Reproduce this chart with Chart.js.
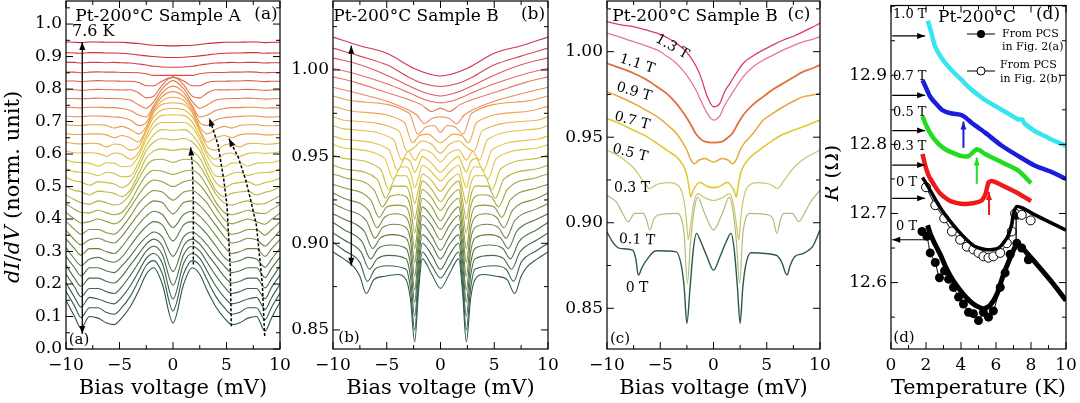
<!DOCTYPE html>
<html>
<head>
<meta charset="utf-8">
<script src="https://cdn.jsdelivr.net/npm/chart.js@4/dist/chart.umd.min.js"></script>
<style>
  body { margin: 0; background: #fff; width: 1080px; height: 403px; overflow: hidden; position: relative; }
  canvas { position: absolute; top: 0; }
</style>
</head>
<body>
<canvas id="ca" width="300" height="403" style="left:0px"></canvas>
<canvas id="cb" width="285" height="403" style="left:285px"></canvas>
<canvas id="cc" width="285" height="403" style="left:555px"></canvas>
<canvas id="cd" width="255" height="403" style="left:825px"></canvas>
<script>
// ---- tick labels ----
const biasTicks = [-10, -5, 0, 5, 10];
const yTicksA = [0, 0.1, 0.2, 0.3, 0.4, 0.5, 0.6, 0.7, 0.8, 0.9, 1.0];
const yTicksBC = [0.85, 0.90, 0.95, 1.00];
const tTicksD = [0, 2, 4, 6, 8, 10];
const rTicksD = [12.6, 12.7, 12.8, 12.9];

// ---- (a) Sample A, dI/dV vs bias, bottom (low T) to top (7.6 K) ----
const biasA = [-10, -9.2, -8.6, -7.8, -7, -6.2, -5.5, -4.8, -4, -3.2, -2.5, -1.8, -1, 0, 1, 1.8, 2.5, 3.2, 4, 4.8, 5.5, 6.2, 7, 7.8, 8.6, 9.2, 10];
const curvesA = [
  [.150,.100,.065,.100,.095,.080,.075,.095,.130,.180,.230,.250,.200,.080,.200,.250,.230,.180,.130,.095,.075,.080,.095,.100,.055,.095,.145],
  [.177,.132,.097,.127,.127,.112,.107,.127,.162,.212,.257,.272,.232,.117,.232,.272,.257,.212,.162,.127,.107,.112,.127,.127,.090,.128,.172],
  [.204,.159,.129,.159,.154,.144,.139,.159,.194,.239,.279,.294,.264,.154,.264,.294,.279,.239,.194,.159,.139,.144,.154,.159,.122,.157,.200],
  [.231,.191,.161,.186,.186,.176,.171,.191,.226,.266,.301,.316,.291,.196,.291,.316,.301,.266,.226,.191,.171,.176,.186,.186,.155,.189,.228],
  [.258,.218,.193,.218,.218,.208,.203,.223,.258,.293,.323,.338,.318,.238,.318,.338,.323,.293,.258,.223,.203,.208,.218,.218,.188,.216,.255],
  [.285,.250,.225,.250,.250,.240,.235,.255,.285,.320,.345,.360,.345,.285,.345,.360,.345,.320,.285,.255,.235,.240,.250,.250,.220,.248,.283],
  [.312,.277,.257,.277,.282,.272,.267,.282,.317,.352,.377,.392,.382,.332,.382,.392,.377,.352,.317,.282,.267,.272,.282,.277,.252,.276,.310],
  [.339,.309,.289,.309,.309,.299,.294,.314,.349,.384,.409,.424,.414,.374,.414,.424,.409,.384,.349,.314,.294,.299,.309,.309,.285,.308,.337],
  [.366,.336,.321,.336,.341,.331,.326,.346,.381,.416,.441,.456,.451,.416,.451,.456,.441,.416,.381,.346,.326,.331,.341,.336,.317,.335,.364],
  [.393,.368,.353,.368,.368,.358,.353,.373,.408,.448,.473,.488,.483,.458,.483,.488,.473,.448,.408,.373,.353,.358,.368,.368,.350,.367,.391],
  [.420,.400,.388,.392,.400,.392,.385,.398,.435,.475,.505,.520,.515,.500,.515,.520,.505,.475,.435,.398,.385,.392,.400,.392,.384,.399,.418],
  [.447,.430,.420,.419,.427,.419,.413,.420,.452,.500,.535,.550,.547,.537,.547,.550,.535,.500,.452,.420,.413,.419,.427,.419,.417,.429,.445],
  [.474,.459,.450,.446,.456,.450,.443,.449,.477,.524,.563,.582,.584,.574,.584,.582,.563,.524,.477,.449,.443,.450,.456,.446,.448,.458,.472],
  [.501,.488,.484,.474,.486,.483,.479,.469,.489,.540,.588,.609,.616,.611,.616,.609,.588,.540,.489,.469,.479,.483,.486,.474,.482,.487,.499],
  [.528,.517,.514,.504,.515,.512,.508,.497,.513,.560,.611,.637,.648,.643,.648,.637,.611,.560,.513,.497,.508,.512,.515,.504,.512,.516,.526],
  [.555,.546,.544,.541,.534,.544,.540,.530,.532,.575,.627,.659,.675,.673,.675,.659,.627,.575,.532,.530,.540,.544,.534,.541,.543,.545,.553],
  [.582,.575,.574,.572,.563,.573,.572,.561,.563,.594,.645,.682,.697,.697,.697,.682,.645,.594,.563,.561,.572,.573,.563,.572,.573,.574,.580],
  [.609,.604,.603,.604,.602,.593,.603,.600,.584,.605,.656,.698,.719,.721,.719,.698,.656,.605,.584,.600,.603,.593,.602,.604,.602,.603,.607],
  [.636,.632,.631,.633,.632,.622,.631,.628,.612,.622,.670,.715,.736,.741,.736,.715,.670,.622,.612,.628,.631,.622,.632,.633,.630,.631,.634],
  [.663,.660,.660,.662,.662,.659,.650,.657,.650,.637,.676,.727,.753,.758,.753,.727,.676,.637,.650,.657,.650,.659,.662,.662,.659,.659,.661],
  [.690,.688,.688,.690,.690,.688,.680,.685,.676,.662,.684,.734,.765,.775,.765,.734,.684,.662,.676,.685,.680,.688,.690,.690,.687,.687,.688],
  [.717,.715,.715,.717,.717,.716,.714,.712,.705,.688,.697,.742,.777,.792,.777,.742,.697,.688,.705,.712,.714,.716,.717,.717,.714,.714,.715],
  [.744,.743,.742,.744,.744,.743,.743,.740,.734,.720,.714,.749,.789,.809,.789,.749,.714,.720,.734,.740,.743,.743,.744,.744,.741,.742,.742],
  [.771,.771,.770,.771,.772,.771,.771,.770,.766,.751,.741,.761,.801,.826,.801,.761,.741,.751,.766,.770,.771,.771,.772,.771,.769,.770,.770],
  [.798,.798,.796,.798,.799,.798,.798,.797,.798,.788,.773,.778,.813,.838,.813,.778,.773,.788,.798,.797,.798,.798,.799,.798,.796,.797,.797],
  [.825,.825,.823,.825,.826,.825,.825,.824,.824,.820,.810,.810,.825,.836,.825,.810,.810,.820,.824,.824,.825,.825,.826,.825,.823,.824,.824],
  [.852,.852,.850,.852,.853,.852,.852,.851,.851,.850,.847,.842,.842,.842,.842,.842,.847,.850,.851,.851,.852,.852,.853,.852,.850,.851,.851],
  [.882,.882,.880,.882,.882,.881,.882,.881,.880,.877,.874,.870,.868,.867,.868,.870,.874,.877,.880,.881,.882,.881,.882,.882,.880,.881,.881],
  [.912,.911,.910,.912,.912,.911,.911,.910,.908,.905,.902,.900,.898,.897,.898,.900,.902,.905,.908,.910,.911,.911,.912,.912,.910,.911,.911],
  [.945,.944,.943,.945,.945,.944,.944,.944,.942,.940,.937,.935,.934,.933,.934,.935,.937,.940,.942,.944,.944,.944,.945,.945,.943,.944,.944]
];

// ---- (b) Sample B, temperature series, [bias, dI/dV] ----
const curvesB = [
  [[-10,.895],[-9,.891],[-8,.886],[-7.5,.881],[-6.9,.871],[-6.2,.879],[-5.2,.881],[-4,.882],[-3.2,.879],[-2.8,.868],[-2.4,.843],[-2.05,.872],[-1.7,.891],[-0.8,.882],[0,.874],[0.8,.882],[1.7,.891],[2.05,.872],[2.4,.843],[2.8,.868],[3.2,.879],[4,.882],[5.2,.881],[6.2,.879],[6.9,.871],[7.5,.881],[8,.886],[9,.891],[10,.895]],
  [[-10,.9006],[-9,.896],[-7.5,.889],[-6.8,.878],[-6.1,.885],[-5,.887],[-3.2,.885],[-2.8,.874],[-2.4,.850],[-2.05,.877],[-1.7,.895],[-0.8,.887],[0,.880],[0.8,.887],[1.7,.895],[2.05,.877],[2.4,.850],[2.8,.874],[3.2,.885],[5,.887],[6.1,.885],[6.8,.878],[7.5,.889],[9,.896],[10,.900]],
  [[-10,.906],[-9,.902],[-7.4,.895],[-6.6,.885],[-5.9,.891],[-4.8,.893],[-3.2,.891],[-2.8,.881],[-2.4,.858],[-2.05,.883],[-1.7,.900],[-0.8,.893],[0,.885],[0.8,.893],[1.7,.900],[2.05,.883],[2.4,.858],[2.8,.881],[3.2,.891],[4.8,.893],[5.9,.891],[6.6,.885],[7.4,.895],[9,.902],[10,.906]],
  [[-10,.912],[-9,.908],[-7.3,.901],[-6.5,.891],[-5.8,.897],[-4.6,.899],[-3.2,.897],[-2.8,.888],[-2.4,.866],[-2.05,.889],[-1.7,.905],[-0.8,.899],[0,.891],[0.8,.899],[1.7,.905],[2.05,.889],[2.4,.866],[2.8,.888],[3.2,.897],[4.6,.899],[5.8,.897],[6.5,.891],[7.3,.901],[9,.908],[10,.912]],
  [[-10,.917],[-9,.914],[-7.1,.907],[-6.3,.897],[-5.6,.903],[-4.5,.905],[-3.2,.903],[-2.8,.895],[-2.4,.873],[-2.05,.895],[-1.7,.911],[-0.8,.904],[0,.896],[0.8,.904],[1.7,.911],[2.05,.895],[2.4,.873],[2.8,.895],[3.2,.903],[4.5,.905],[5.6,.903],[6.3,.897],[7.1,.907],[9,.914],[10,.917]],
  [[-10,.923],[-9,.920],[-6.9,.913],[-6.1,.903],[-5.4,.909],[-4.3,.911],[-3.2,.909],[-2.8,.902],[-2.4,.881],[-2.05,.901],[-1.7,.916],[-0.8,.910],[0,.902],[0.8,.910],[1.7,.916],[2.05,.901],[2.4,.881],[2.8,.902],[3.2,.909],[4.3,.911],[5.4,.909],[6.1,.903],[6.9,.913],[9,.920],[10,.923]],
  [[-10,.929],[-9,.926],[-6.7,.919],[-5.9,.909],[-5.2,.915],[-4.2,.917],[-3.2,.915],[-2.8,.908],[-2.4,.889],[-2.05,.907],[-1.7,.921],[-0.8,.915],[0,.908],[0.8,.915],[1.7,.921],[2.05,.907],[2.4,.889],[2.8,.908],[3.2,.915],[4.2,.917],[5.2,.915],[5.9,.909],[6.7,.919],[9,.926],[10,.929]],
  [[-10,.934],[-9,.932],[-6.5,.925],[-5.7,.915],[-5.0,.921],[-4.0,.922],[-3.2,.921],[-2.8,.914],[-2.4,.897],[-2.05,.913],[-1.7,.926],[-0.8,.921],[0,.913],[0.8,.921],[1.7,.926],[2.05,.913],[2.4,.897],[2.8,.914],[3.2,.921],[4.0,.922],[5.0,.921],[5.7,.915],[6.5,.925],[9,.932],[10,.934]],
  [[-10,.940],[-9,.938],[-6.2,.931],[-5.4,.921],[-4.7,.927],[-3.9,.928],[-3.2,.927],[-2.8,.921],[-2.4,.906],[-2.05,.919],[-1.7,.931],[-0.8,.926],[0,.919],[0.8,.926],[1.7,.931],[2.05,.919],[2.4,.906],[2.8,.921],[3.2,.927],[3.9,.928],[4.7,.927],[5.4,.921],[6.2,.931],[9,.938],[10,.940]],
  [[-10,.945],[-9,.943],[-5.9,.937],[-5.1,.926],[-4.4,.933],[-3.2,.933],[-2.8,.927],[-2.4,.914],[-2.05,.925],[-1.7,.936],[-0.8,.931],[0,.924],[0.8,.931],[1.7,.936],[2.05,.925],[2.4,.914],[2.8,.927],[3.2,.933],[4.4,.933],[5.1,.926],[5.9,.937],[9,.943],[10,.945]],
  [[-10,.951],[-9,.949],[-5.6,.943],[-4.8,.931],[-4.1,.939],[-3.2,.939],[-2.8,.934],[-2.4,.923],[-2.05,.931],[-1.7,.940],[-0.8,.936],[0,.930],[0.8,.936],[1.7,.940],[2.05,.931],[2.4,.923],[2.8,.934],[3.2,.939],[4.1,.939],[4.8,.931],[5.6,.943],[9,.949],[10,.951]],
  [[-10,.957],[-9,.955],[-5.2,.949],[-4.4,.937],[-3.7,.944],[-3.1,.944],[-2.75,.940],[-2.4,.932],[-2.05,.938],[-1.7,.945],[-0.8,.941],[0,.936],[0.8,.941],[1.7,.945],[2.05,.938],[2.4,.932],[2.75,.940],[3.1,.944],[3.7,.944],[4.4,.937],[5.2,.949],[9,.955],[10,.957]],
  [[-10,.962],[-9,.960],[-4.8,.954],[-4.0,.942],[-3.3,.949],[-2.8,.947],[-2.4,.941],[-2.05,.945],[-1.7,.950],[-0.8,.946],[0,.941],[0.8,.946],[1.7,.950],[2.05,.945],[2.4,.941],[2.8,.947],[3.3,.949],[4.0,.942],[4.8,.954],[9,.960],[10,.962]],
  [[-10,.968],[-9,.966],[-4.4,.960],[-3.6,.948],[-3.0,.953],[-2.4,.948],[-1.7,.954],[-0.8,.952],[0,.947],[0.8,.952],[1.7,.954],[2.4,.948],[3.0,.953],[3.6,.948],[4.4,.960],[9,.966],[10,.968]],
  [[-10,.973],[-9,.971],[-3.9,.965],[-3.1,.953],[-2.5,.955],[-1.7,.959],[-0.8,.957],[0,.952],[0.8,.957],[1.7,.959],[2.5,.955],[3.1,.953],[3.9,.965],[9,.971],[10,.973]],
  [[-10,.979],[-8,.976],[-3.4,.970],[-2.6,.958],[-2.0,.962],[-1.2,.963],[0,.958],[1.2,.963],[2.0,.962],[2.6,.958],[3.4,.970],[8,.976],[10,.979]],
  [[-10,.985],[-8,.982],[-2.9,.975],[-2.1,.963],[-1.4,.967],[-0.6,.968],[0,.964],[0.6,.968],[1.4,.967],[2.1,.963],[2.9,.975],[8,.982],[10,.985]],
  [[-10,.990],[-8,.987],[-5,.982],[-3,.977],[-2.2,.974],[-1.5,.969],[-0.8,.972],[0,.973],[0.8,.972],[1.5,.969],[2.2,.974],[3,.977],[5,.982],[8,.987],[10,.990]],
  [[-10,.996],[-8,.993],[-5,.987],[-3,.983],[-1.8,.980],[-0.8,.976],[0,.978],[0.8,.976],[1.8,.980],[3,.983],[5,.987],[8,.993],[10,.996]],
  [[-10,1.001],[-8,.998],[-5,.992],[-3,.987],[-1.5,.983],[-0.6,.9815],[0,.981],[0.6,.9815],[1.5,.983],[3,.987],[5,.992],[8,.998],[10,1.001]],
  [[-10,1.007],[-7.5,1.003],[-5,.997],[-3,.991],[-1.5,.987],[0,.985],[1.5,.987],[3,.991],[5,.997],[7.5,1.003],[10,1.007]],
  [[-10,1.0126],[-7.5,1.008],[-5,1.003],[-3,.996],[-1.5,.992],[0,.9905],[1.5,.992],[3,.996],[5,1.003],[7.5,1.008],[10,1.0126]],
  [[-10,1.019],[-7.5,1.014],[-5,1.0096],[-2.5,1.001],[-1,.9975],[0,.9965],[1,.9975],[2.5,1.001],[5,1.0096],[7.5,1.014],[10,1.019]]
];

// ---- (c) Sample B, field series ----
const fieldsC = ['1.3 T', '1.1 T', '0.9 T', '0.7 T', '0.5 T', '0.3 T', '0.1 T', '0 T'];
const c13 = [[-10,1.0175],[-8.8,1.0158],[-7.5,1.0146],[-6.4,1.0128],[-5.3,1.0108],[-4.3,1.008],[-3.5,1.0049],[-2.8,1.0015],[-2.2,.9971],[-1.6,.991],[-1.2,.9854],[-0.6,.974],[0,.9678],[0.6,.9698],[1.0,.976],[1.55,.9815],[2.2,.988],[2.8,.9932],[3.7,.9975],[4.68,1.001],[5.6,1.004],[6.56,1.0068],[7.5,1.009],[8.44,1.0117],[9.2,1.014],[10,1.0166]];
const c11 = [[-10,1.0108],[-8.8,1.0085],[-7.5,1.0058],[-6.4,1.0035],[-5.3,1.001],[-4.3,.997],[-3.5,.9932],[-2.8,.9885],[-2.2,.9834],[-1.6,.977],[-1.2,.9715],[-0.5,.963],[0,.960],[0.61,.9626],[1.0,.968],[1.55,.9737],[2.2,.980],[2.8,.9854],[3.7,.991],[4.68,.9951],[5.6,.998],[6.56,1.001],[7.5,1.0035],[8.44,1.0058],[9.2,1.007],[10,1.0088]];
const c09 = [[-10,.9932],[-8.8,.9905],[-7.5,.9874],[-6.4,.984],[-5.3,.9795],[-4.3,.975],[-3.5,.9698],[-2.8,.964],[-2.2,.9581],[-1.7,.9525],[-1.3,.9495],[-0.8,.9474],[0,.9468],[0.8,.9474],[1.3,.9495],[1.8,.9525],[2.3,.958],[2.8,.963],[3.7,.969],[4.68,.9737],[5.6,.978],[6.56,.9815],[7.5,.985],[8.44,.9883],[9.2,.990],[10,.9922]];
const c07 = [[-10,.9766],[-8.8,.9735],[-7.5,.9698],[-6.4,.966],[-5.3,.962],[-4.3,.957],[-3.5,.9523],[-2.9,.947],[-2.5,.9425],[-2.15,.937],[-1.8,.9345],[-1.4,.9365],[-0.8,.9375],[0,.9355],[0.8,.9375],[1.4,.9365],[1.8,.9345],[2.15,.937],[2.5,.9425],[2.9,.9465],[3.7,.952],[4.68,.960],[5.6,.964],[6.56,.9678],[7.5,.971],[8.44,.9737],[9.2,.9745],[10,.9757]];
const c05 = [[-10,.961],[-8.8,.958],[-7.5,.954],[-6.3,.9505],[-5.3,.9464],[-4.3,.942],[-3.5,.9386],[-2.9,.934],[-2.55,.929],[-2.3,.921],[-2.15,.915],[-1.9,.919],[-1.3,.9235],[-0.5,.921],[0,.9205],[0.5,.921],[1.3,.9235],[1.9,.919],[2.15,.915],[2.3,.921],[2.55,.929],[2.9,.934],[3.5,.9385],[4.3,.9425],[5.3,.947],[6.3,.951],[7.5,.954],[8.8,.957],[10,.960]];
const c03 = [[-10,.9425],[-8.8,.9386],[-7.5,.932],[-6.6,.9245],[-6.0,.920],[-5.3,.9225],[-4.2,.9235],[-3.2,.921],[-2.75,.912],[-2.55,.902],[-2.37,.8899],[-2.15,.899],[-1.9,.910],[-1.5,.917],[-0.8,.9145],[0,.913],[0.8,.9145],[1.5,.917],[1.9,.910],[2.15,.899],[2.37,.8899],[2.55,.902],[2.75,.912],[3.2,.921],[4.2,.9235],[5.3,.9225],[6.0,.920],[6.6,.9245],[7.5,.932],[8.8,.9385],[10,.9425]];
const c01 = [[-10,.916],[-9.1,.912],[-8.5,.905],[-8.0,.9006],[-7.4,.9055],[-6.6,.9055],[-6.3,.902],[-6.0,.8957],[-5.6,.902],[-5.2,.9045],[-3.5,.9055],[-3.0,.902],[-2.75,.893],[-2.45,.8646],[-2.15,.889],[-1.85,.906],[-1.5,.915],[-0.8,.905],[0,.8957],[0.8,.905],[1.5,.915],[1.85,.906],[2.15,.889],[2.45,.8646],[2.75,.893],[3.0,.902],[3.5,.9055],[5.2,.9045],[5.6,.902],[5.95,.8938],[6.3,.902],[6.6,.9055],[7.4,.9055],[8.0,.9006],[8.5,.905],[9.1,.912],[10,.919]];
const c00 = [[-10,.8947],[-9.5,.889],[-8.8,.885],[-7.6,.884],[-7.3,.879],[-7.06,.8694],[-6.7,.874],[-6.3,.878],[-5.4,.8836],[-3.5,.883],[-3.0,.8743],[-2.75,.862],[-2.5,.8412],[-2.2,.862],[-1.9,.884],[-1.6,.8938],[-1.2,.889],[-0.6,.880],[0,.8723],[0.6,.880],[1.2,.889],[1.65,.8938],[1.95,.884],[2.25,.862],[2.5,.8412],[2.75,.862],[3.0,.8743],[3.5,.8825],[5.9,.881],[6.4,.877],[6.9,.8694],[7.2,.875],[7.6,.880],[8.4,.882],[9.3,.886],[10,.8957]];

// ---- (d) R vs T, [T, R] ----
const r10T = [[2.11,12.979],[2.3,12.962],[2.53,12.941],[3.0,12.921],[3.48,12.907],[4.0,12.894],[4.43,12.883],[5.0,12.871],[5.38,12.864],[6.0,12.855],[6.33,12.850],[7.0,12.840],[7.28,12.836],[7.5,12.836],[7.6,12.831],[8.23,12.819],[8.8,12.812],[9.18,12.807],[10.0,12.798]];
const r07T = [[1.8,12.893],[2.0,12.882],[2.24,12.869],[2.6,12.858],[2.91,12.850],[3.4,12.845],[3.95,12.843],[4.2,12.840],[4.62,12.831],[5.0,12.824],[5.38,12.817],[6.33,12.798],[7.28,12.783],[8.23,12.769],[9.18,12.760],[10.0,12.750]];
const r05T = [[1.8,12.841],[2.0,12.828],[2.34,12.812],[2.7,12.801],[3.1,12.793],[3.6,12.787],[4.05,12.783],[4.43,12.783],[4.7,12.789],[4.9,12.793],[5.1,12.791],[5.38,12.786],[6.33,12.774],[7.28,12.762],[8.0,12.744]];
const r03T = [[1.8,12.786],[1.95,12.770],[2.15,12.755],[2.5,12.740],[2.81,12.729],[3.2,12.721],[3.48,12.717],[4.0,12.714],[4.43,12.714],[4.9,12.716],[5.19,12.719],[5.4,12.728],[5.57,12.745],[5.75,12.747],[6.0,12.745],[6.33,12.741],[7.28,12.729],[8.0,12.718]];
const r0Tb = [[1.8,12.752],[2.0,12.744],[2.34,12.729],[2.7,12.713],[3.1,12.698],[3.6,12.682],[4.05,12.669],[4.5,12.658],[4.81,12.652],[5.38,12.648],[5.8,12.648],[6.14,12.650],[6.45,12.658],[6.71,12.669],[6.9,12.685],[7.0,12.700],[7.19,12.710],[7.5,12.708],[8.23,12.698],[9.18,12.686],[10.0,12.676]];
const r0Ta = [[2.09,12.683],[2.25,12.670],[2.43,12.660],[2.81,12.641],[3.19,12.619],[3.57,12.602],[4.14,12.583],[4.71,12.569],[5.28,12.562],[5.66,12.567],[6.05,12.583],[6.43,12.612],[6.9,12.641],[7.1,12.652],[7.28,12.655],[7.5,12.650],[7.76,12.643],[8.52,12.621],[9.28,12.598],[10.0,12.574]];
const pcsA = [[1.77,12.674],[2.05,12.667],[2.24,12.643],[2.53,12.629],[2.77,12.607],[3.06,12.617],[3.29,12.605],[3.57,12.593],[3.86,12.579],[4.14,12.569],[4.43,12.557],[4.71,12.555],[5.0,12.545],[5.28,12.557],[5.57,12.55],[5.85,12.559],[6.24,12.593],[6.52,12.614],[6.81,12.641],[7.19,12.657],[7.47,12.65],[7.85,12.633]];
const pcsB = [[2.0,12.738],[2.53,12.712],[3.04,12.693],[3.48,12.674],[3.95,12.662],[4.33,12.652],[4.71,12.648],[5.0,12.643],[5.28,12.638],[5.57,12.636],[5.85,12.638],[6.24,12.643],[6.62,12.657],[6.9,12.674],[7.09,12.700],[7.47,12.698],[7.98,12.690]];

// ---------------- drawing helpers ----------------
const FONT = '"DejaVu Serif", serif';
Chart.defaults.font.family = FONT;
Chart.defaults.color = '#000';

function fmtX(v) { return v < 0 ? '\u2212' + Math.abs(v) : String(v); }

function ramp(stops, f) {
  for (let k = 1; k < stops.length; k++) {
    if (f <= stops[k][0] + 1e-9) {
      const [p0, c0] = stops[k - 1], [p1, c1] = stops[k];
      const t = (f - p0) / (p1 - p0);
      return 'rgb(' + c0.map((c, j) => Math.round(c + (c1[j] - c) * t)).join(',') + ')';
    }
  }
  return 'rgb(' + stops[stops.length - 1][1].join(',') + ')';
}
const stopsA = [[0,[40,85,72]],[0.18,[82,115,70]],[0.32,[132,150,62]],[0.45,[190,185,60]],[0.55,[222,196,62]],[0.65,[233,170,70]],[0.76,[233,135,76]],[0.88,[222,85,70]],[1,[208,35,55]]];
const stopsB = [[0,[45,90,78]],[0.2,[100,125,70]],[0.38,[170,170,60]],[0.5,[222,200,60]],[0.62,[233,185,72]],[0.74,[234,150,90]],[0.86,[228,110,100]],[1,[210,50,90]]];

function scaleX(min, max, ticks, minor, title) {
  return {
    type: 'linear', position: 'bottom', min, max,
    afterBuildTicks: s => { s.ticks = ticks.map(v => ({ value: v })); },
    afterFit: s => { s.height = 54; s.paddingLeft = 0; s.paddingRight = 0; },
    grid: { display: false, drawTicks: false }, border: { display: false },
    ticks: { font: { size: 17 }, color: '#000', padding: 6, maxRotation: 0, autoSkip: false, callback: v => fmtX(v) },
    title: { display: true, text: title, font: { size: 21 }, color: '#000', padding: { top: 0, bottom: 2 } },
    minorStep: minor
  };
}
function scaleY(min, max, ticks, dec, minor, width) {
  return {
    type: 'linear', min, max,
    afterBuildTicks: s => { s.ticks = ticks.map(v => ({ value: v })); },
    afterFit: s => { s.width = width; s.paddingTop = 0; s.paddingBottom = 0; },
    grid: { display: false, drawTicks: false }, border: { display: false },
    ticks: { font: { size: 17 }, color: '#000', padding: 4, autoSkip: false, callback: v => v.toFixed(dec) },
    minorStep: minor
  };
}

// frame with inward ticks on all four sides
const framePlugin = {
  id: 'frame',
  afterDraw(chart) {
    const { ctx, chartArea: a, scales } = chart;
    ctx.save();
    ctx.strokeStyle = '#000';
    ctx.lineWidth = 1.2;
    ctx.strokeRect(a.left, a.top, a.right - a.left, a.bottom - a.top);
    ctx.lineWidth = 1;
    ctx.beginPath();
    for (const sc of [scales.x, scales.y]) {
      const majors = sc.ticks.map(t => t.value);
      const step = sc.options.minorStep;
      const marks = majors.map(v => [v, 7]);
      for (let k = Math.ceil(sc.min / step - 1e-6); k * step <= sc.max + 1e-9; k++) {
        const v = k * step;
        if (!majors.some(m => Math.abs(m - v) < step / 10)) marks.push([v, 4]);
      }
      for (const [v, len] of marks) {
        const p = sc.getPixelForValue(v);
        if (sc.isHorizontal()) {
          ctx.moveTo(p, a.bottom); ctx.lineTo(p, a.bottom - len);
          ctx.moveTo(p, a.top); ctx.lineTo(p, a.top + len);
        } else {
          ctx.moveTo(a.left, p); ctx.lineTo(a.left + len, p);
          ctx.moveTo(a.right, p); ctx.lineTo(a.right - len, p);
        }
      }
    }
    ctx.stroke();
    ctx.restore();
  }
};

function drawArrow(ctx, ar, x, y) {
  const p = ar.pts.map(([a, b]) => [x.getPixelForValue(a), y.getPixelForValue(b)]);
  ctx.strokeStyle = ctx.fillStyle = ar.color || '#000';
  ctx.lineWidth = ar.lw || 1.2;
  ctx.setLineDash(ar.dash || []);
  ctx.beginPath();
  p.forEach(([px, py], k) => k ? ctx.lineTo(px, py) : ctx.moveTo(px, py));
  ctx.stroke();
  ctx.setLineDash([]);
  const L = ar.hl || 8, W = ar.hw || 3;
  const head = (tip, from) => {
    const ang = Math.atan2(tip[1] - from[1], tip[0] - from[0]);
    const c = Math.cos(ang), s = Math.sin(ang);
    ctx.beginPath();
    ctx.moveTo(tip[0], tip[1]);
    ctx.lineTo(tip[0] - L * c + W * s, tip[1] - L * s - W * c);
    ctx.lineTo(tip[0] - L * c - W * s, tip[1] - L * s + W * c);
    ctx.closePath();
    ctx.fill();
  };
  head(p[p.length - 1], p[p.length - 2]);
  if (ar.both) head(p[0], p[1]);
}

function drawText(ctx, t, off) {
  const parts = Array.isArray(t.s) ? t.s : [[t.s, 0]];
  ctx.save();
  ctx.translate(t.x - off, t.y);
  if (t.rot) ctx.rotate(t.rot * Math.PI / 180);
  ctx.fillStyle = '#000';
  ctx.textBaseline = 'middle';
  ctx.textAlign = 'left';
  const fonts = parts.map(([, it]) => (it ? 'italic ' : '') + t.size + 'px ' + FONT);
  let w = 0;
  const ws = parts.map(([s], k) => { ctx.font = fonts[k]; const m = ctx.measureText(s).width; w += m; return m; });
  let cx = t.align === 'left' ? 0 : -w / 2;
  parts.forEach(([s], k) => { ctx.font = fonts[k]; ctx.fillText(s, cx, 0); cx += ws[k]; });
  ctx.restore();
}

function notes(off, texts, arrows, extra) {
  return {
    id: 'notes',
    afterDatasetsDraw(chart) {
      const { ctx, scales: { x, y } } = chart;
      ctx.save();
      arrows.forEach(ar => drawArrow(ctx, ar, x, y));
      ctx.restore();
    },
    afterDraw(chart) {
      texts.forEach(t => drawText(chart.ctx, t, off));
      if (extra) extra(chart.ctx, off);
    }
  };
}

function baseOptions(padRight, sx, sy) {
  return {
    responsive: false, animation: false, devicePixelRatio: 1, events: [],
    layout: { padding: { left: 0, right: padRight, top: 1, bottom: 0 } },
    plugins: { legend: { display: false }, tooltip: { enabled: false } },
    elements: { point: { radius: 0 } },
    scales: { x: sx, y: sy }
  };
}

// ---------------- panel (a) ----------------
new Chart(document.getElementById('ca'), {
  type: 'line',
  data: {
    datasets: curvesA.map((c, i) => ({
      data: c.map((v, k) => [biasA[k], v]),
      borderColor: ramp(stopsA, i / (curvesA.length - 1)),
      borderWidth: 1.1, tension: 0.3, cubicInterpolationMode: 'monotone', pointRadius: 0
    }))
  },
  options: baseOptions(20, scaleX(-10, 10, biasTicks, 2.5, 'Bias voltage (mV)'), scaleY(0, 1.071, yTicksA, 1, 0.05, 66)),
  plugins: [framePlugin, notes(0, [
    { s: 'Pt-200°C Sample A', x: 158, y: 17, size: 17 },
    { s: '(a)', x: 266, y: 15, size: 17 },
    { s: '(a)', x: 79, y: 340, size: 15 },
    { s: '7.6 K', x: 72, y: 32, size: 16, align: 'left' },
    { s: [['dI', 1], ['/', 0], ['dV', 1], [' (norm. unit)', 0]], x: 14, y: 187, size: 21, rot: -90 }
  ], [
    { pts: [[-8.48, 0.046], [-8.48, 0.945]], both: true, lw: 1.3 },
    { pts: [[1.9, 0.26], [1.9, 0.45], [1.82, 0.56], [1.65, 0.62]], dash: [3, 2], lw: 1.5 },
    { pts: [[5.45, 0.07], [5.35, 0.25], [5.05, 0.44], [4.75, 0.52], [4.2, 0.63], [3.4, 0.71]], dash: [3, 2], lw: 1.5 },
    { pts: [[8.57, 0.04], [8.35, 0.2], [7.8, 0.38], [7.25, 0.46], [6.8, 0.52], [6.1, 0.59], [5.23, 0.647]], dash: [3, 2], lw: 1.5 }
  ])]
});

// ---------------- panel (b) ----------------
new Chart(document.getElementById('cb'), {
  type: 'line',
  data: {
    datasets: curvesB.map((c, i) => ({
      data: c,
      borderColor: ramp(stopsB, i / (curvesB.length - 1)),
      borderWidth: 1.1, tension: 0.3, cubicInterpolationMode: 'monotone', pointRadius: 0
    }))
  },
  options: baseOptions(22, scaleX(-10, 10, biasTicks, 2.5, 'Bias voltage (mV)'), scaleY(0.839, 1.0398, yTicksBC, 2, 0.025, 48)),
  plugins: [framePlugin, notes(285, [
    { s: 'Pt-200°C Sample B', x: 416, y: 17, size: 17 },
    { s: '(b)', x: 533, y: 15, size: 17 },
    { s: '(b)', x: 349, y: 338, size: 15 }
  ], [
    { pts: [[-8.3, 0.887], [-8.3, 1.014]], both: true, lw: 1.3 }
  ])]
});

// ---------------- panel (c) ----------------
const seriesC = [c13, c11, c09, c07, c05, c03, c01, c00];
const colorsC = ['#d83c6c', '#e67a8a', '#e2703c', '#e8a834', '#e2c834', '#cac66e', '#b4ba7c', '#2c5a48'];
const widthsC = [1.3, 1.3, 1.8, 1.5, 1.6, 1.2, 1.2, 1.4];
new Chart(document.getElementById('cc'), {
  type: 'line',
  data: {
    datasets: seriesC.map((c, i) => ({
      label: fieldsC[i], data: c, borderColor: colorsC[i], borderWidth: widthsC[i],
      tension: 0.3, cubicInterpolationMode: 'monotone', pointRadius: 0
    })).reverse()
  },
  options: baseOptions(20, scaleX(-10, 10, biasTicks, 2.5, 'Bias voltage (mV)'), scaleY(0.8262, 1.0296, yTicksBC, 2, 0.025, 52)),
  plugins: [framePlugin, notes(555, [
    { s: 'Pt-200°C Sample B', x: 695, y: 17, size: 17 },
    { s: '(c)', x: 799, y: 15, size: 17 },
    { s: '(c)', x: 620, y: 339, size: 15 },
    { s: fieldsC[0], x: 672, y: 47, size: 14, rot: 30 },
    { s: fieldsC[1], x: 637, y: 64, size: 14, rot: 18 },
    { s: fieldsC[2], x: 634, y: 92, size: 14, rot: 16 },
    { s: fieldsC[3], x: 632, y: 121, size: 14, rot: 15 },
    { s: fieldsC[4], x: 630, y: 153, size: 14, rot: 14 },
    { s: fieldsC[5], x: 632, y: 188, size: 14 },
    { s: fieldsC[6], x: 637, y: 240, size: 14, rot: 3 },
    { s: fieldsC[7], x: 637, y: 288, size: 14 }
  ], [])]
});

// ---------------- panel (d) ----------------
function legendD(ctx, off) {
  ctx.save();
  ctx.strokeStyle = '#000';
  ctx.lineWidth = 1;
  ctx.beginPath();
  ctx.moveTo(967 - off, 34); ctx.lineTo(995 - off, 34);
  ctx.moveTo(967 - off, 71); ctx.lineTo(995 - off, 71);
  ctx.stroke();
  ctx.fillStyle = '#000';
  ctx.beginPath(); ctx.arc(981 - off, 34, 4, 0, Math.PI * 2); ctx.fill();
  ctx.fillStyle = '#fff';
  ctx.beginPath(); ctx.arc(981 - off, 71, 4, 0, Math.PI * 2); ctx.fill(); ctx.stroke();
  ctx.restore();
}
new Chart(document.getElementById('cd'), {
  type: 'line',
  data: {
    datasets: [
      { label: '1.0 T', data: r10T, borderColor: '#36e4f2', borderWidth: 4.5 },
      { label: '0.7 T', data: r07T, borderColor: '#1c1cdc', borderWidth: 4.5 },
      { label: '0.5 T', data: r05T, borderColor: '#22dc22', borderWidth: 4.5 },
      { label: '0.3 T', data: r03T, borderColor: '#f01818', borderWidth: 4.5 },
      { label: '0 T', data: r0Tb, borderColor: '#000', borderWidth: 3.5 },
      { label: '0 T', data: r0Ta, borderColor: '#000', borderWidth: 5 },
      { label: 'From PCS in Fig. 2(a)', data: pcsA, borderColor: '#000', borderWidth: 1, pointRadius: 4.5, pointBackgroundColor: '#000', pointBorderWidth: 0 },
      { label: 'From PCS in Fig. 2(b)', data: pcsB, borderColor: '#000', borderWidth: 1, pointRadius: 4.5, pointBackgroundColor: '#fff', pointBorderColor: '#000', pointBorderWidth: 1 }
    ].map(d => Object.assign({ tension: 0.2, pointRadius: 0 }, d))
  },
  options: baseOptions(14, scaleX(0, 10, tTicksD, 1, 'Temperature (K)'), scaleY(12.5039, 13.001, rTicksD, 1, 0.05, 66)),
  plugins: [framePlugin, notes(825, [
    { s: 'Pt-200°C', x: 977, y: 18, size: 17 },
    { s: '(d)', x: 1048, y: 15, size: 17 },
    { s: '(d)', x: 904, y: 338, size: 15 },
    { s: '1.0 T', x: 893, y: 15, size: 13, align: 'left' },
    { s: '0.7 T', x: 893, y: 77, size: 13, align: 'left' },
    { s: '0.5 T', x: 893, y: 113, size: 13, align: 'left' },
    { s: '0.3 T', x: 893, y: 147, size: 13, align: 'left' },
    { s: '0 T', x: 896, y: 183, size: 13, align: 'left' },
    { s: '0 T', x: 896, y: 227, size: 13, align: 'left' },
    { s: 'From PCS', x: 1002, y: 34, size: 11, align: 'left' },
    { s: 'in Fig. 2(a)', x: 1002, y: 47, size: 11, align: 'left' },
    { s: 'From PCS', x: 1000, y: 65, size: 11, align: 'left' },
    { s: 'in Fig. 2(b)', x: 1000, y: 79, size: 11, align: 'left' },
    { s: [['R', 1], [' (\u03A9)', 0]], x: 833, y: 173, size: 21, rot: -90 }
  ], [
    { pts: [[0.07, 12.957], [1.95, 12.957]], lw: 1.2 },
    { pts: [[0.07, 12.871], [1.95, 12.871]], lw: 1.2 },
    { pts: [[0.07, 12.820], [1.95, 12.820]], lw: 1.2 },
    { pts: [[0.07, 12.770], [1.95, 12.770]], lw: 1.2 },
    { pts: [[0.07, 12.722], [1.95, 12.722]], lw: 1.2 },
    { pts: [[1.95, 12.662], [0.07, 12.662]], lw: 1.2 },
    { pts: [[4.14, 12.795], [4.14, 12.833]], color: '#1c1cdc', lw: 2 },
    { pts: [[4.9, 12.743], [4.9, 12.781]], color: '#22dc22', lw: 2 },
    { pts: [[5.6, 12.698], [5.6, 12.731]], color: '#f01818', lw: 2 },
    { pts: [[7.15, 12.703], [7.15, 12.648]], both: true, lw: 1.3 }
  ], legendD)]
});
</script>
</body>
</html>
